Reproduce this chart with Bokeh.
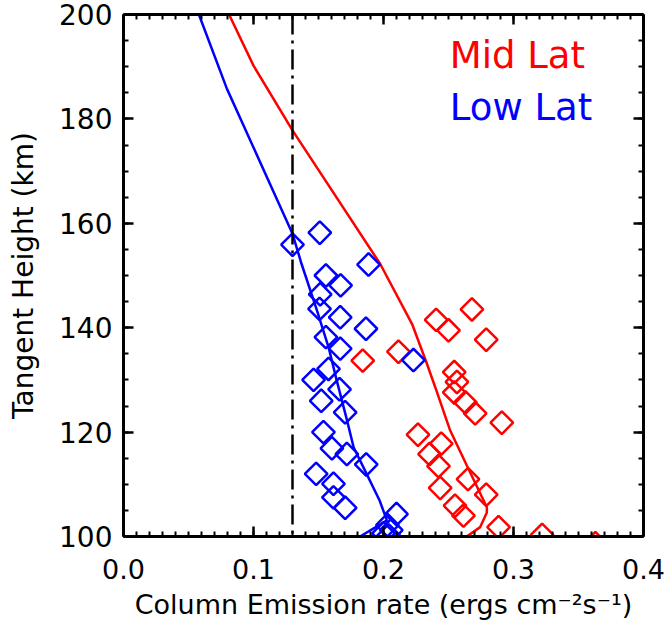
import numpy as np
from bokeh.plotting import figure
from bokeh.models import (LinearAxis, FixedTicker, PrintfTickFormatter, Span, Label,
                          CustomLabelingPolicy)
from bokeh.embed import file_html
from bokeh.resources import INLINE

# ---------------- data ----------------
# Mid-latitude model curve (x: column emission rate, y: tangent height km)
mid_model_x = [0.0812, 0.100, 0.130, 0.1975, 0.222, 0.2334, 0.2398, 0.2513, 0.2641, 0.2795, 0.2795, 0.2744, 0.264]
mid_model_y = [200.0, 190.2, 177.8, 152.2, 140.7, 133.1, 128.6, 120.3, 113.6, 105.6, 104.6, 101.8, 100.0]

# Low-latitude model curve
low_model_x = [0.058, 0.0795, 0.130, 0.137, 0.1488, 0.1577, 0.164, 0.172, 0.177, 0.187, 0.197, 0.2026, 0.182]
low_model_y = [200.0, 185.8, 158.0, 152.2, 143.3, 136.3, 129.9, 122.2, 117.1, 112.0, 106.9, 103.1, 100.0]

# Mid-latitude observations
mid_obs_x = [0.268, 0.2405, 0.250, 0.279, 0.2115, 0.184, 0.2544, 0.2565, 0.2544, 0.263, 0.2705, 0.291,
             0.2265, 0.2444, 0.2354, 0.2423, 0.265, 0.2436, 0.279, 0.255, 0.2615, 0.2885, 0.322, 0.363]
mid_obs_y = [143.5, 141.5, 139.5, 137.7, 135.4, 133.7, 131.5, 129.6, 127.6, 125.7, 123.6, 121.8,
             119.5, 117.8, 115.8, 113.5, 111.0, 109.3, 108.0, 105.9, 104.0, 101.8, 100.3, 98.7]

# Low-latitude observations
low_obs_x = [0.130, 0.151, 0.1885, 0.1557, 0.167, 0.1513, 0.1508, 0.1667, 0.1865, 0.1557, 0.1667, 0.223,
             0.1577, 0.1462, 0.1662, 0.1521, 0.1705, 0.1538, 0.1603, 0.1718, 0.1867, 0.1482, 0.1615,
             0.1615, 0.1705, 0.210, 0.203, 0.206, 0.200, 0.204]
low_obs_y = [155.9, 158.2, 152.1, 150.0, 148.1, 146.4, 143.6, 142.0, 139.8, 138.2, 136.0, 133.8,
             132.1, 130.0, 128.2, 126.0, 123.8, 120.0, 116.9, 115.8, 113.8, 112.0, 110.1,
             107.5, 105.5, 104.3, 102.2, 101.2, 100.6, 100.2]

threshold_x = 0.13

x_ticks = [0.0, 0.1, 0.2, 0.3, 0.4]
y_ticks = [100, 120, 140, 160, 180, 200]

RED = "#ff0000"
BLUE = "#0000ff"
FONT = "DejaVu Sans"

# ---------------- figure ----------------
p = figure(width=666, height=623, x_range=(0, 0.4), y_range=(100, 200),
           output_backend="svg", toolbar_location=None, x_axis_location=None,
           y_axis_location=None,
           min_border_left=123, min_border_right=23, min_border_top=14, min_border_bottom=87)
p.grid.visible = False
p.outline_line_color = None
p.background_fill_color = "white"
p.border_fill_color = "white"

x_minor = [round(i * 0.01, 2) for i in range(0, 41)]
y_minor = list(range(100, 201, 5))


def style_axis(ax, ticks, minor, show_labels):
    ax.ticker = FixedTicker(ticks=ticks, minor_ticks=minor)
    ax.axis_line_width = 3
    ax.axis_line_color = "black"
    ax.major_tick_in = 10
    ax.major_tick_out = 0
    ax.minor_tick_in = 5
    ax.minor_tick_out = 0
    ax.major_tick_line_width = 2.5
    ax.minor_tick_line_width = 2
    ax.major_tick_line_color = "black"
    ax.minor_tick_line_color = "black"
    ax.major_label_text_font = FONT
    ax.axis_label_text_font = FONT
    ax.axis_label_text_font_style = "normal"
    ax.major_label_text_color = "black"
    ax.axis_label_text_color = "black"
    if not show_labels:
        # mirror axis: ticks only, no labels drawn at all
        ax.major_label_policy = CustomLabelingPolicy(
            code="const a = [...indices]; for (const i of a) indices.unset(i); return indices")
        ax.major_label_text_font_size = "4px"
        ax.major_label_standoff = 0


xb = LinearAxis(axis_label="Column Emission rate (ergs cm\u207b\u00b2s\u207b\u00b9)")
style_axis(xb, x_ticks, x_minor, True)
xb.formatter = PrintfTickFormatter(format="%.1f")
xb.major_label_text_font_size = "27px"
xb.axis_label_text_font_size = "27px"
xb.major_label_standoff = 22
xb.axis_label_standoff = 7
p.add_layout(xb, "below")

yl = LinearAxis(axis_label="Tangent Height (km)")
style_axis(yl, y_ticks, y_minor, True)
yl.major_label_text_font_size = "28px"
yl.axis_label_text_font_size = "28px"
yl.major_label_standoff = 11
yl.axis_label_standoff = 16
p.add_layout(yl, "left")

xt = LinearAxis()
style_axis(xt, x_ticks, x_minor, False)
p.add_layout(xt, "above")

yr = LinearAxis()
style_axis(yr, y_ticks, y_minor, False)
p.add_layout(yr, "right")

# threshold dash-dot line
p.add_layout(Span(location=threshold_x, dimension="height", line_color="black",
                  line_width=2.5, line_dash="20 6 3 6"))

# model curves
p.line(mid_model_x, mid_model_y, line_color=RED, line_width=2.5)
p.line(low_model_x, low_model_y, line_color=BLUE, line_width=2.5)

# observations as open diamonds
p.scatter(mid_obs_x, mid_obs_y, marker="square", angle=np.pi / 4, size=16,
          fill_color=None, line_color=RED, line_width=2.5)
p.scatter(low_obs_x, low_obs_y, marker="square", angle=np.pi / 4, size=16,
          fill_color=None, line_color=BLUE, line_width=2.5)

# legend texts
p.add_layout(Label(x=0.251, y=192.2, text="Mid Lat", text_color=RED, text_font=FONT,
                   text_font_size="37px", text_baseline="alphabetic"))
p.add_layout(Label(x=0.251, y=182.1, text="Low Lat", text_color=BLUE, text_font=FONT,
                   text_font_size="37px", text_baseline="alphabetic"))

open("out.html", "w").write(file_html(p, INLINE))
